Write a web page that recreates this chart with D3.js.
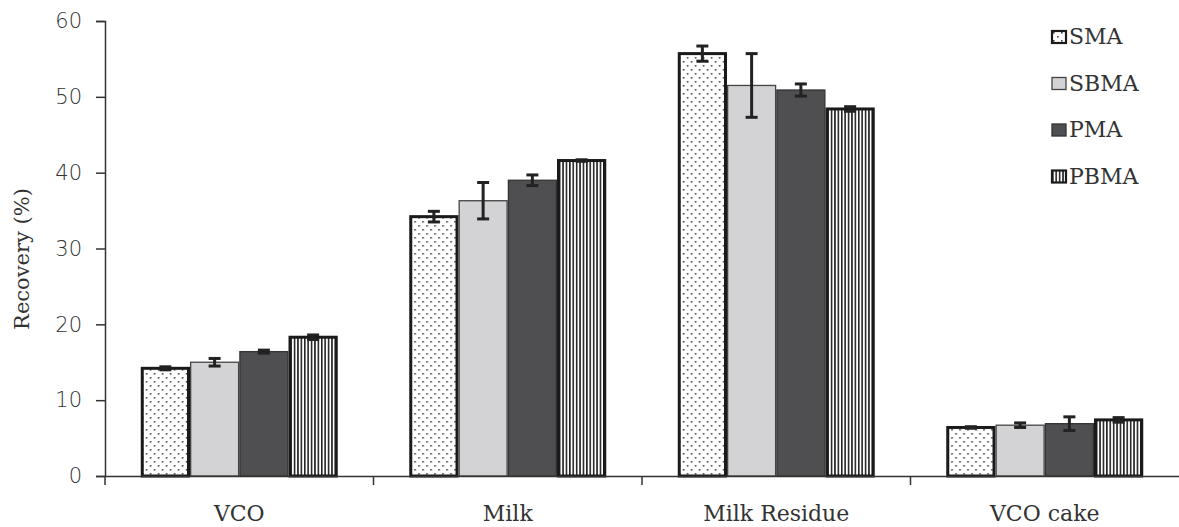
<!DOCTYPE html>
<html>
<head>
<meta charset="utf-8">
<script src="https://cdn.jsdelivr.net/npm/d3@7"></script>
<style>
body { margin: 0; background: #fff; }
svg { display: block; }
text { font-family: "DejaVu Serif", "Liberation Serif", serif; fill: #333; }
</style>
</head>
<body>
<svg width="1179" height="527"></svg>
<script>
// data
const categories = ['VCO', 'Milk', 'Milk Residue', 'VCO cake'];
const series = ['SMA', 'SBMA', 'PMA', 'PBMA'];
const values = [ // rows = categories, cols = series
  [14.2, 15.0, 16.4, 18.3],
  [34.2, 36.3, 39.0, 41.6],
  [55.7, 51.5, 50.9, 48.4],
  [6.4, 6.7, 6.9, 7.4]
];
const errors = [
  [0.2, 0.5, 0.2, 0.3],
  [0.7, 2.4, 0.7, 0.1],
  [1.0, 4.2, 0.8, 0.3],
  [0.1, 0.3, 0.9, 0.3]
];
const yTicks = [0, 10, 20, 30, 40, 50, 60];

const svg = d3.select('svg');
const margin = {top: 21, left: 105, right: 0, bottom: 51};
const w = 1179, h = 527;

// patterns for SMA (dots) and PBMA (stripes)
const defs = svg.append('defs');
const dots = defs.append('pattern').attr('id', 'dots')
  .attr('patternUnits', 'userSpaceOnUse').attr('width', 8).attr('height', 8);
dots.append('rect').attr('width', 8).attr('height', 8).attr('fill', '#fff');
dots.append('rect').attr('x', 1).attr('y', 1).attr('width', 1.6).attr('height', 1.6).attr('fill', '#444');
dots.append('rect').attr('x', 5).attr('y', 5).attr('width', 1.6).attr('height', 1.6).attr('fill', '#444');
const stripes = defs.append('pattern').attr('id', 'stripes')
  .attr('patternUnits', 'userSpaceOnUse').attr('width', 3.4).attr('height', 4);
stripes.append('rect').attr('width', 3.4).attr('height', 4).attr('fill', '#fff');
stripes.append('rect').attr('width', 1.6).attr('height', 4).attr('fill', '#222');

const fills = {SMA: 'url(#dots)', SBMA: '#d3d3d5', PMA: '#4f4f51', PBMA: 'url(#stripes)'};
const strokes = {SMA: ['#1a1a1a', 3], SBMA: ['#444', 1.3], PMA: ['#333', 1.3], PBMA: ['#1a1a1a', 3]};

const x0 = d3.scaleBand().domain(categories).range([margin.left, w - margin.right]);
const x1 = d3.scaleBand().domain(series).range([0, 197]);
const pad = (x0.bandwidth() - 197) / 2;
const y = d3.scaleLinear().domain([0, 60]).range([h - margin.bottom, margin.top]);

const groups = svg.append('g').selectAll('g')
  .data(categories)
  .enter().append('g')
  .attr('transform', d => 'translate(' + (x0(d) + pad) + ',0)');

groups.selectAll('rect')
  .data((d, i) => series.map((s, j) => ({s: s, v: values[i][j], e: errors[i][j]})))
  .enter().append('rect')
  .attr('x', d => x1(d.s) + strokes[d.s][1] / 2)
  .attr('y', d => y(d.v))
  .attr('width', d => x1.bandwidth() - strokes[d.s][1])
  .attr('height', d => y(0) - y(d.v))
  .attr('fill', d => fills[d.s])
  .attr('stroke', d => strokes[d.s][0])
  .attr('stroke-width', d => strokes[d.s][1]);

// error bars
const eb = groups.selectAll('g.err')
  .data((d, i) => series.map((s, j) => ({s: s, v: values[i][j], e: errors[i][j]})))
  .enter().append('g').attr('class', 'err')
  .attr('stroke', '#222').attr('stroke-width', 3);
eb.append('line')
  .attr('x1', d => x1(d.s) + x1.bandwidth() / 2).attr('x2', d => x1(d.s) + x1.bandwidth() / 2)
  .attr('y1', d => y(d.v + d.e)).attr('y2', d => y(d.v - d.e));
eb.append('line')
  .attr('x1', d => x1(d.s) + x1.bandwidth() / 2 - 6).attr('x2', d => x1(d.s) + x1.bandwidth() / 2 + 6)
  .attr('y1', d => y(d.v + d.e)).attr('y2', d => y(d.v + d.e));
eb.append('line')
  .attr('x1', d => x1(d.s) + x1.bandwidth() / 2 - 6).attr('x2', d => x1(d.s) + x1.bandwidth() / 2 + 6)
  .attr('y1', d => y(d.v - d.e)).attr('y2', d => y(d.v - d.e));

// axes
const yAxis = d3.axisLeft(y).tickValues(yTicks).tickSize(9).tickPadding(14);
const gy = svg.append('g').attr('transform', 'translate(' + margin.left + ',0)').call(yAxis);
gy.selectAll('text').style('font-size', '21px').style('font-family', '"DejaVu Sans", sans-serif')
  .style('font-weight', 200).attr('fill', '#2a2a2a');

const xAxis = d3.axisBottom(x0).tickSize(0).tickPadding(29);
const gx = svg.append('g').attr('transform', 'translate(0,' + y(0) + ')').call(xAxis);
gx.selectAll('text').style('font-size', '22px').attr('fill', '#333');
// boundary ticks between categories
gx.selectAll('line.bound')
  .data(categories.map(c => x0(c)))
  .enter().append('line').attr('class', 'bound')
  .attr('x1', d => d).attr('x2', d => d).attr('y1', 0).attr('y2', 9)
  .attr('stroke', '#333').attr('stroke-width', 1.5);
svg.selectAll('.domain').attr('stroke', '#333').attr('stroke-width', 1.5);
svg.selectAll('.tick line').attr('stroke', '#333').attr('stroke-width', 1.5);

svg.append('text')
  .attr('transform', 'translate(23,' + 259 + ') rotate(-90)')
  .attr('text-anchor', 'middle')
  .attr('dominant-baseline', 'middle')
  .style('font-size', '21px')
  .text('Recovery (%)');

// legend
const legend = svg.append('g').attr('transform', 'translate(1052,31)');
const li = legend.selectAll('g').data(series).enter().append('g')
  .attr('transform', (d, i) => 'translate(0,' + (i * 46.5) + ')');
li.append('rect').attr('width', 14).attr('height', 12)
  .attr('fill', d => fills[d])
  .attr('stroke', d => strokes[d][0])
  .attr('stroke-width', d => Math.min(strokes[d][1], 2.2));
li.append('text').attr('x', 17).attr('y', 7).attr('dominant-baseline', 'middle')
  .style('font-size', '22px').attr('fill', '#222').text(d => d);
</script>
</body>
</html>
